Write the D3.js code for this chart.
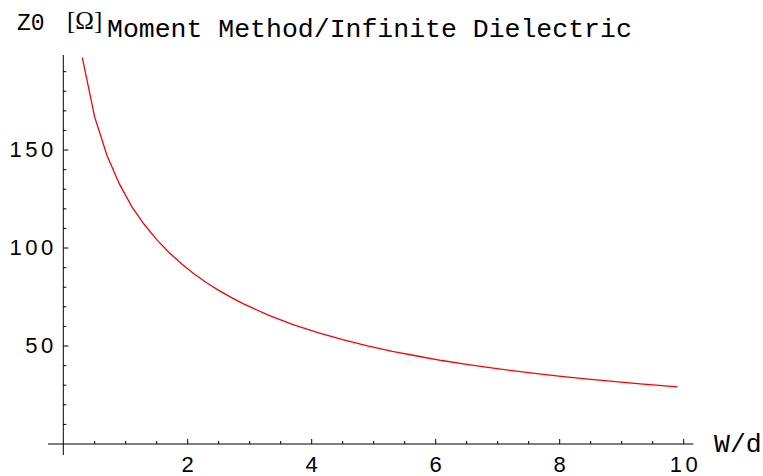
<!DOCTYPE html>
<html>
<head>
<meta charset="utf-8">
<script src="https://cdn.jsdelivr.net/npm/d3@7"></script>
<style>
  body { margin: 0; background: #fff; }
  svg { display: block; }
</style>
</head>
<body>
<svg id="chart"></svg>
<script>
// values (W/d vs Z0 in ohms)
const wd = [0.3, 0.5, 0.7, 0.9, 1.1, 1.3, 1.5, 1.7, 1.9, 2.1, 2.3, 2.5, 2.7, 2.9,
            3.3, 3.7, 4.1, 4.5, 4.9, 5.3, 5.7, 6.1, 6.5, 6.9, 7.3, 7.7, 8.1, 8.5,
            8.9, 9.3, 9.7, 9.9]
const z0 = [197.2, 166.8, 147.1, 132.6, 121.0, 112.0, 104.3, 97.7, 92.0, 86.9, 82.4, 78.4, 74.8, 71.5,
            65.8, 60.9, 56.8, 53.2, 50.1, 47.3, 44.9, 42.6, 40.6, 38.8, 37.2, 35.7, 34.3, 33.0,
            31.8, 30.7, 29.7, 29.2]
const xTicks = [2, 4, 6, 8, 10]
const yTicks = [50, 100, 150]
const title = 'Moment Method/Infinite Dielectric'

const width = 763, height = 476

const svg = d3.select('#chart').attr('width', width).attr('height', height)

const x = d3.scaleLinear().domain([0, 10]).range([63.7, 683.7])
const y = d3.scaleLinear().domain([0, 198.5]).range([444, 55])

const x0 = x(0), y0 = y(0)

// clip the curve to the plotting range
svg.append('clipPath').attr('id', 'clip')
    .append('rect')
    .attr('x', x0).attr('y', y(198.5))
    .attr('width', x(10.2) - x0).attr('height', y0 - y(198.5))

// x axis
const xAxis = svg.append('g')
xAxis.append('line')
    .attr('x1', 48).attr('x2', 693.3)
    .attr('y1', y0).attr('y2', y0)
    .attr('stroke', '#000').attr('stroke-width', 1)
xAxis.selectAll('.minor')
    .data(d3.range(1, 21).map(d => d / 2))
    .enter().append('line')
    .attr('x1', d => x(d)).attr('x2', d => x(d))
    .attr('y1', y0).attr('y2', d => y0 - (d % 2 === 0 ? 5 : 3))
    .attr('stroke', '#000').attr('stroke-width', 1)
xAxis.selectAll('text')
    .data(xTicks)
    .enter().append('text')
    .attr('x', d => x(d) + 1.7)
    .attr('y', 472)
    .attr('text-anchor', 'middle')
    .attr('font-family', '"Liberation Sans", Arial, sans-serif')
    .attr('font-size', 22)
    .attr('letter-spacing', 3.5)
    .text(d => d)

// y axis
const yAxis = svg.append('g')
yAxis.append('line')
    .attr('x1', 63.3).attr('x2', 63.3)
    .attr('y1', 55).attr('y2', 455)
    .attr('stroke', '#000').attr('stroke-width', 1)
yAxis.selectAll('.minor')
    .data(d3.range(1, 20).map(d => d * 10))
    .enter().append('line')
    .attr('x1', 63.3).attr('x2', d => 63.3 + (d % 50 === 0 ? 5 : 3))
    .attr('y1', d => y(d)).attr('y2', d => y(d))
    .attr('stroke', '#000').attr('stroke-width', 1)
yAxis.selectAll('text')
    .data(yTicks)
    .enter().append('text')
    .attr('x', 56.8)
    .attr('y', d => y(d) + 7)
    .attr('text-anchor', 'end')
    .attr('font-family', '"Liberation Sans", Arial, sans-serif')
    .attr('font-size', 22)
    .attr('letter-spacing', 3.5)
    .text(d => d)

// curve
const line = d3.line()
    .x((d, i) => x(wd[i]))
    .y(d => y(d))

svg.append('path')
    .datum(z0)
    .attr('clip-path', 'url(#clip)')
    .attr('d', line)
    .attr('fill', 'none')
    .attr('stroke', '#ff0000')
    .attr('stroke-width', 1.3)

// labels
svg.append('text')
    .attr('x', 17).attr('y', 30)
    .attr('font-family', '"Liberation Mono", "Courier New", monospace')
    .attr('font-size', 23)
    .text('Z0')
svg.append('text')
    .attr('x', 67).attr('y', 29)
    .attr('font-family', '"Liberation Serif", "Times New Roman", serif')
    .attr('font-size', 25)
    .text('[Ω]')
svg.append('text')
    .attr('x', 107).attr('y', 36.5)
    .attr('font-family', '"Liberation Mono", "Courier New", monospace')
    .attr('font-size', 26.5)
    .text(title)
svg.append('text')
    .attr('x', 714).attr('y', 451.5)
    .attr('font-family', '"Liberation Mono", "Courier New", monospace')
    .attr('font-size', 26.5)
    .text('W/d')
</script>
</body>
</html>
